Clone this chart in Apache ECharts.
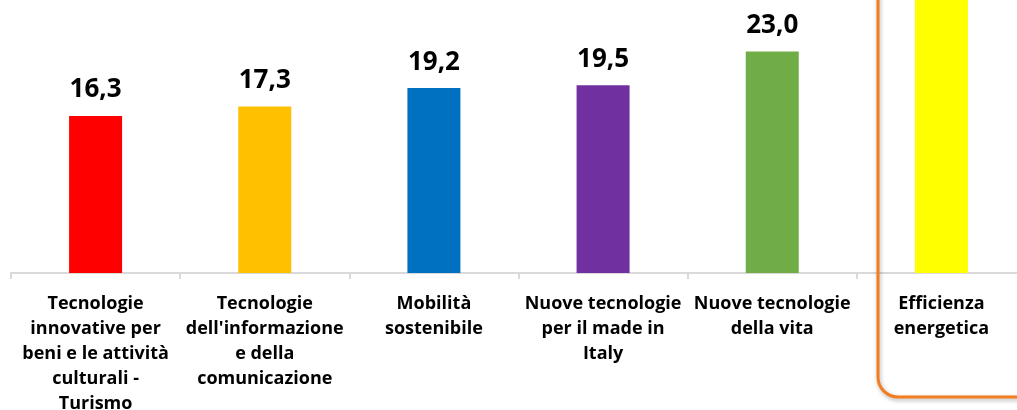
<!DOCTYPE html>
<html><head><meta charset="utf-8">
<script src="https://cdn.jsdelivr.net/npm/echarts@6/dist/echarts.min.js"></script>
<style>html,body{margin:0;padding:0;background:#fff}#c{width:1017px;height:410px}</style>
</head><body><div id="c"></div>
<script>
const categories = [
  "Tecnologie\ninnovative per\nbeni e le attività\nculturali -\nTurismo",
  "Tecnologie\ndell'informazione\ne della\ncomunicazione",
  "Mobilità\nsostenibile",
  "Nuove tecnologie\nper il made in\nItaly",
  "Nuove tecnologie\ndella vita",
  "Efficienza\nenergetica"
];
const values = [16.3, 17.3, 19.2, 19.5, 23.0, 31.0];
const colors = ["#ff0000", "#ffc000", "#0070c0", "#7030a0", "#70ad47", "#ffff00"];
const hiddenLabel = [false, false, false, false, false, true];

const chart = echarts.init(document.getElementById('c'));
chart.setOption({
  animation: false,
  grid: { left: 11, width: 1015, top: 0, height: 273, containLabel: false, outerBoundsMode: 'none' },
  xAxis: {
    type: 'category',
    data: categories,
    axisLine: { lineStyle: { color: '#d9d9d9', width: 2 } },
    axisTick: { show: true, length: 6, lineStyle: { color: '#d9d9d9', width: 2 } },
    axisLabel: {
      interval: 0, margin: 18,
      fontFamily: 'Open Sans', fontWeight: 'bold', fontSize: 18, lineHeight: 25, color: '#000'
    }
  },
  yAxis: { type: 'value', min: 0, max: 28.35, show: false, splitLine: { show: false } },
  series: [{
    type: 'bar',
    barWidth: 53,
    data: values.map((v, i) => ({
      value: v,
      itemStyle: { color: colors[i] },
      label: { show: !hiddenLabel[i] }
    })),
    label: {
      show: true, position: 'top', distance: 13,
      fontFamily: 'Open Sans', fontWeight: 'bold', fontSize: 26, color: '#000',
      formatter: p => p.value.toFixed(1).replace('.', ',')
    }
  }],
  graphic: [{
    type: 'rect',
    shape: { x: 878, y: -40, width: 170, height: 437, r: 20 },
    style: {
      fill: 'none', stroke: '#f47d1f', lineWidth: 3,
      shadowBlur: 4, shadowColor: 'rgba(0,0,0,0.3)', shadowOffsetX: 1, shadowOffsetY: 2
    },
    z: 10
  }]
});
</script></body></html>
